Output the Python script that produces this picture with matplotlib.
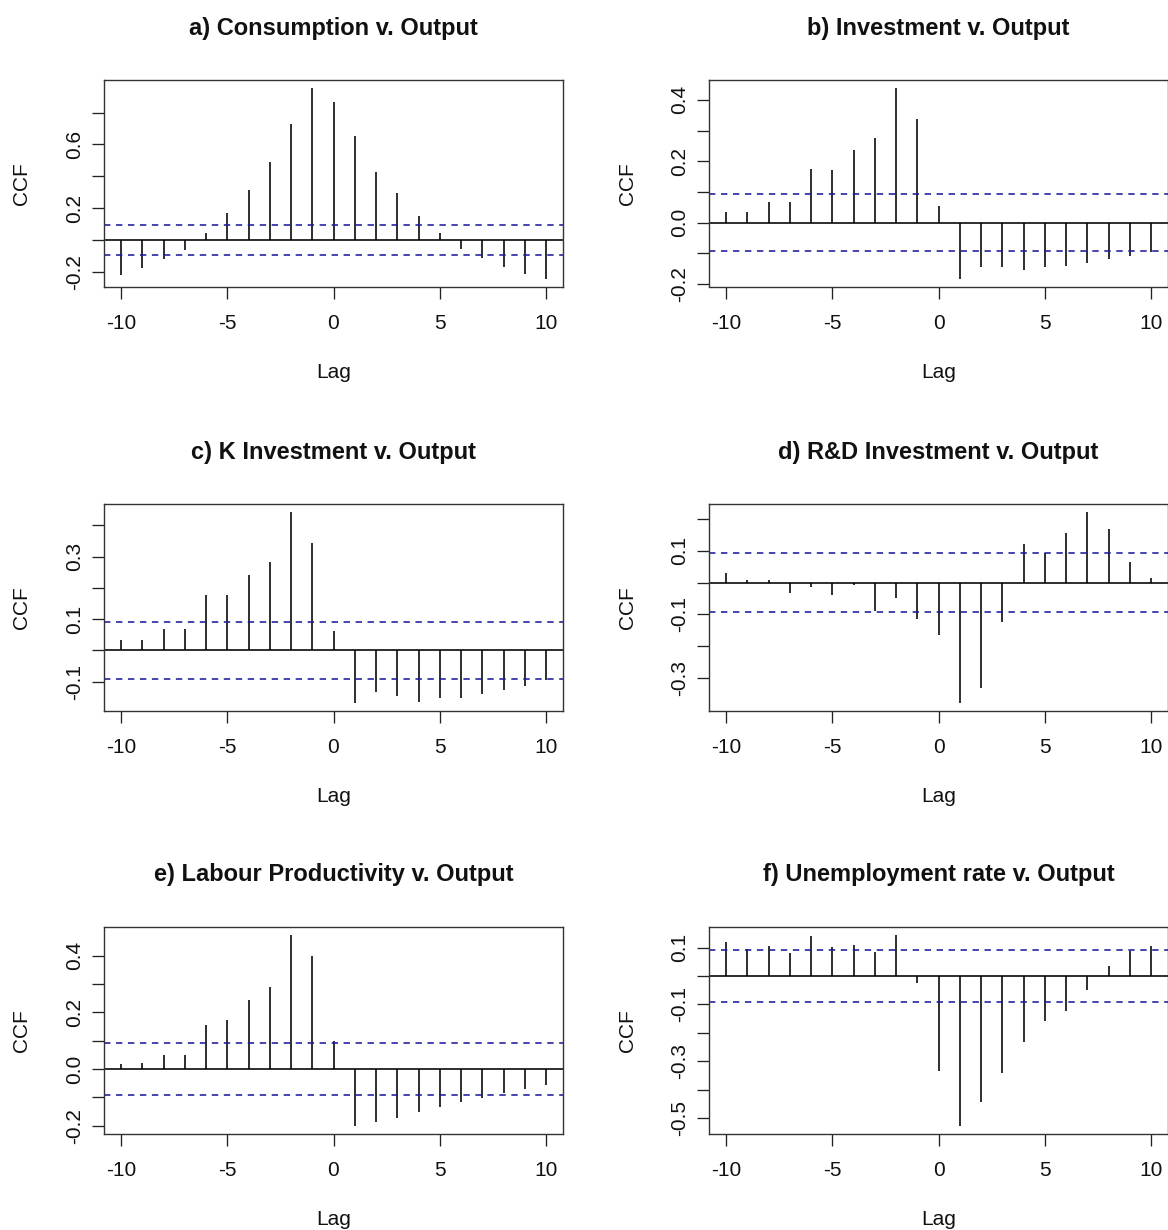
import matplotlib
matplotlib.use("Agg")
import matplotlib.pyplot as plt

plt.rcParams["font.family"] = ["Liberation Sans", "DejaVu Sans"]

# Lags of the cross-correlation function
lags = list(range(-10, 11))

titles = [
    "a) Consumption v. Output",
    "b) Investment v. Output",
    "c) K Investment v. Output",
    "d) R&D Investment v. Output",
    "e) Labour Productivity v. Output",
    "f) Unemployment rate v. Output",
]

ccf_consumption = [-0.222, -0.174, -0.120, -0.065, 0.046, 0.172, 0.312, 0.492, 0.731, 0.957,
                   0.869, 0.653, 0.429, 0.297, 0.151, 0.042, -0.059, -0.113, -0.170, -0.214, -0.245]
ccf_investment = [0.034, 0.034, 0.069, 0.069, 0.174, 0.171, 0.238, 0.275, 0.440, 0.339,
                  0.054, -0.183, -0.146, -0.146, -0.154, -0.146, -0.142, -0.130, -0.118, -0.107, -0.094]
ccf_k_investment = [0.033, 0.033, 0.069, 0.069, 0.176, 0.176, 0.241, 0.282, 0.444, 0.345,
                    0.062, -0.168, -0.132, -0.145, -0.164, -0.151, -0.151, -0.140, -0.128, -0.113, -0.095]
ccf_rd_investment = [0.029, 0.009, 0.009, -0.032, -0.013, -0.040, -0.009, -0.090, -0.048, -0.114,
                     -0.165, -0.377, -0.331, -0.123, 0.122, 0.092, 0.156, 0.222, 0.168, 0.064, 0.014]
ccf_productivity = [0.016, 0.021, 0.051, 0.051, 0.156, 0.174, 0.244, 0.291, 0.475, 0.400,
                    0.099, -0.201, -0.188, -0.172, -0.153, -0.136, -0.118, -0.101, -0.084, -0.071, -0.058]
ccf_unemployment = [0.119, 0.096, 0.106, 0.083, 0.141, 0.101, 0.110, 0.085, 0.146, -0.025,
                    -0.333, -0.528, -0.445, -0.342, -0.234, -0.158, -0.124, -0.049, 0.036, 0.090, 0.106]

series = [ccf_consumption, ccf_investment, ccf_k_investment,
          ccf_rd_investment, ccf_productivity, ccf_unemployment]

# Approximate 95% confidence bound
ci_bound = 0.092

x_ticks = [-10, -5, 0, 5, 10]
x_tick_labels = ["-10", "-5", "0", "5", "10"]

y_ticks = [
    [-0.2, 0.0, 0.2, 0.4, 0.6, 0.8],
    [-0.2, -0.1, 0.0, 0.1, 0.2, 0.3, 0.4],
    [-0.1, 0.0, 0.1, 0.2, 0.3, 0.4],
    [-0.3, -0.2, -0.1, 0.0, 0.1, 0.2],
    [-0.2, -0.1, 0.0, 0.1, 0.2, 0.3, 0.4],
    [-0.5, -0.4, -0.3, -0.2, -0.1, 0.0, 0.1],
]
y_tick_labels = [
    ["-0.2", "", "0.2", "", "0.6", ""],
    ["-0.2", "", "0.0", "", "0.2", "", "0.4"],
    ["-0.1", "", "0.1", "", "0.3", ""],
    ["-0.3", "", "-0.1", "", "0.1", ""],
    ["-0.2", "", "0.0", "", "0.2", "", "0.4"],
    ["-0.5", "", "-0.3", "", "-0.1", "", "0.1"],
]

W, H = 1168, 1230
fig = plt.figure(figsize=(W / 100, H / 100), dpi=100)

col_left = [104, 709]
col_width = 459
row_top = [80, 504, 927]
row_height = 206.5

ci_color = "#1c1c9c"
line_w = 1.15

for i, vals in enumerate(series):
    r, c = divmod(i, 2)
    left = col_left[c] / W
    bottom = 1 - (row_top[r] + row_height) / H
    ax = fig.add_axes([left, bottom, col_width / W, row_height / H])

    ax.vlines(lags, 0, vals, color="black", lw=line_w)
    ax.axhline(0, color="black", lw=line_w)
    ax.axhline(ci_bound, color=ci_color, lw=line_w, ls=(0, (4, 3.5)))
    ax.axhline(-ci_bound, color=ci_color, lw=line_w, ls=(0, (4, 3.5)))

    lo = min(min(vals), -ci_bound)
    hi = max(max(vals), ci_bound)
    pad = 0.04 * (hi - lo)
    ax.set_ylim(lo - pad, hi + pad)
    ax.set_xlim(lags[0] - 0.04 * (lags[-1] - lags[0]), lags[-1] + 0.04 * (lags[-1] - lags[0]))

    ax.set_xticks(x_ticks)
    ax.set_xticklabels(x_tick_labels)
    ax.set_yticks(y_ticks[i])
    ax.set_yticklabels(y_tick_labels[i], rotation=90, va="center")

    ax.tick_params(axis="both", length=8.6, width=0.95, color="#222222",
                   labelsize=15, labelcolor="#111111")
    ax.tick_params(axis="x", pad=11)
    ax.tick_params(axis="y", pad=5.5)

    for sp in ax.spines.values():
        sp.set_linewidth(1.0)
        sp.set_color("#333333")

    ax.set_xlabel("Lag", fontsize=15, color="#111111", va="center")
    ax.xaxis.set_label_coords(0.5, -86 / row_height)
    ax.set_ylabel("CCF", fontsize=15, color="#111111", va="center")
    ax.yaxis.set_label_coords(-82 / col_width, 0.5)

    ax.set_title(titles[i], fontsize=17, fontweight="bold", color="#111111",
                 y=1 + 52 / row_height, va="center", pad=0)

fig.savefig("out.png", dpi=100)
